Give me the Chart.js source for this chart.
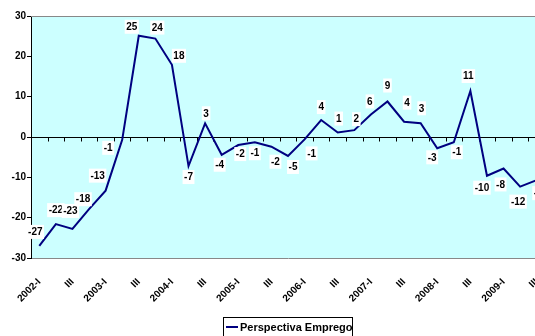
<!DOCTYPE html>
<html>
<head>
<meta charset="utf-8">
<script src="https://cdn.jsdelivr.net/npm/chart.js@4.4.1/dist/chart.umd.min.js"></script>
<style>
  html, body { margin: 0; padding: 0; background: #fff; overflow: hidden; }
  canvas { display: block; }
</style>
</head>
<body>
<canvas id="chart" width="568" height="336"></canvas>
<script>
// Quarterly categories, 2002-I .. 2009-III
const CATEGORIES = [
  '2002-I', '2002-II', '2002-III', '2002-IV',
  '2003-I', '2003-II', '2003-III', '2003-IV',
  '2004-I', '2004-II', '2004-III', '2004-IV',
  '2005-I', '2005-II', '2005-III', '2005-IV',
  '2006-I', '2006-II', '2006-III', '2006-IV',
  '2007-I', '2007-II', '2007-III', '2007-IV',
  '2008-I', '2008-II', '2008-III', '2008-IV',
  '2009-I', '2009-II', '2009-III'
];

const SERIES_NAME = 'Perspectiva Emprego';
const EMPREGO = [
  -27, -21.6, -22.8, -17.9,
  -13.3, -0.7, 25.1, 24.4,
  17.9, -7.2, 3.4, -4.4,
  -2, -1.3, -2.4, -4.7,
  -0.6, 4.2, 1.1, 1.7,
  5.6, 8.8, 3.8, 3.4,
  -2.8, -1.3, 11.4, -9.6,
  -7.8, -12.3, -10.7
];

const Y_MIN = -30;
const Y_MAX = 30;
const Y_STEP = 10;

// label placement relative to each point (dx, dy), like Excel's auto placement
const LABEL_OFFSETS = [
  [-4, -14], [0, -14], [-2, -18], [-6, -10],
  [-8, -15], [-14, 8], [-7, -9], [2, -11],
  [7, -9], [0, 11], [1, -10], [-2, 10],
  [2, 9], [0, 11], [4, 15], [5, 11],
  [7, 14], [0, -13], [1, -14], [2, -11],
  [-1, -13], [0, -16], [3, -19], [1, -15],
  [-5, 9], [3, 10], [-2, -15], [-5, 12],
  [-3, 16], [-2, 15], [4, 13]
];

const FONT = 'Arial, "Liberation Sans", sans-serif';
const LINE_COLOR = '#000080';

// frame, zero axis, data labels and boxed legend
const excelBits = {
  id: 'excelBits',
  beforeDatasetsDraw(chart) {
    const { ctx, chartArea: a, scales } = chart;
    const x = scales.x, y = scales.y;
    ctx.save();
    // top frame line
    ctx.strokeStyle = '#888';
    ctx.lineWidth = 1;
    ctx.beginPath();
    ctx.moveTo(a.left, a.top + 0.5);
    ctx.lineTo(a.right, a.top + 0.5);
    ctx.stroke();
    // category axis crossing at zero
    const y0 = Math.round(y.getPixelForValue(0)) + 0.5;
    ctx.strokeStyle = '#000';
    ctx.beginPath();
    ctx.moveTo(a.left, y0);
    ctx.lineTo(a.right, y0);
    const half = (x.getPixelForValue(1) - x.getPixelForValue(0)) / 2;
    for (let i = 0; i < CATEGORIES.length; i++) {
      const tx = Math.round(x.getPixelForValue(i) + half) + 0.5;
      ctx.moveTo(tx, y0);
      ctx.lineTo(tx, y0 + 4);
    }
    ctx.stroke();
    ctx.restore();
  },
  afterDatasetsDraw(chart) {
    const { ctx } = chart;
    const meta = chart.getDatasetMeta(0);
    ctx.save();
    ctx.font = 'bold 10px ' + FONT;
    ctx.textAlign = 'center';
    ctx.textBaseline = 'middle';
    meta.data.forEach((pt, i) => {
      const txt = String(Math.round(EMPREGO[i]));
      const [dx, dy] = LABEL_OFFSETS[i];
      const cx = pt.x + dx, cy = pt.y + dy;
      const w = ctx.measureText(txt).width + 3;
      ctx.fillStyle = '#fff';
      ctx.fillRect(cx - w / 2, cy - 7, w, 14);
      ctx.fillStyle = '#000';
      ctx.fillText(txt, cx, cy + 0.5);
    });

    // legend box
    const lx = 223, ly = 317, lw = 129, lh = 19;
    ctx.fillStyle = '#fff';
    ctx.fillRect(lx, ly, lw, lh);
    ctx.strokeStyle = '#000';
    ctx.lineWidth = 1;
    ctx.strokeRect(lx + 0.5, ly + 0.5, lw, lh);
    ctx.strokeStyle = LINE_COLOR;
    ctx.lineWidth = 2;
    ctx.beginPath();
    ctx.moveTo(lx + 3, ly + 10);
    ctx.lineTo(lx + 15, ly + 10);
    ctx.stroke();
    ctx.fillStyle = '#000';
    ctx.textAlign = 'left';
    ctx.font = 'bold 11px ' + FONT;
    ctx.fillText(SERIES_NAME, lx + 17, ly + 10.5);
    ctx.restore();
  }
};

const plotBg = {
  id: 'plotBg',
  beforeDraw(chart) {
    const { ctx, chartArea: a } = chart;
    ctx.save();
    ctx.fillStyle = '#CCFFFF';
    ctx.fillRect(a.left, a.top, a.right - a.left, a.bottom - a.top);
    ctx.restore();
  }
};

new Chart(document.getElementById('chart'), {
  type: 'line',
  data: {
    labels: CATEGORIES,
    datasets: [{
      label: SERIES_NAME,
      data: EMPREGO,
      borderColor: LINE_COLOR,
      borderWidth: 2,
      pointRadius: 0,
      tension: 0,
      fill: false
    }]
  },
  options: {
    responsive: false,
    animation: false,
    layout: { padding: { left: 0, top: 16, right: 23, bottom: 0 } },
    plugins: {
      legend: { display: false },
      tooltip: { enabled: false }
    },
    scales: {
      x: {
        offset: true,
        afterFit: (s) => { s.height = 78; },
        border: { display: true, color: '#888', width: 1 },
        grid: { display: false },
        ticks: {
          autoSkip: false,
          minRotation: 45,
          maxRotation: 45,
          padding: 10,
          color: '#000',
          font: { family: FONT, size: 10, weight: 'bold' },
          callback: (v, i) => {
            const c = CATEGORIES[i];
            if (c.endsWith('-I')) return c;
            if (c.endsWith('-III')) return 'III';
            return '';
          }
        }
      },
      y: {
        min: Y_MIN,
        max: Y_MAX,
        afterFit: (s) => { s.width = 31; },
        border: { display: true, color: '#000', width: 1 },
        grid: {
          drawOnChartArea: false,
          drawTicks: true,
          tickLength: 4,
          color: '#000'
        },
        ticks: {
          stepSize: Y_STEP,
          padding: 1,
          color: '#000',
          font: { family: FONT, size: 10, weight: 'bold' }
        }
      }
    }
  },
  plugins: [plotBg, excelBits]
});
</script>
</body>
</html>
